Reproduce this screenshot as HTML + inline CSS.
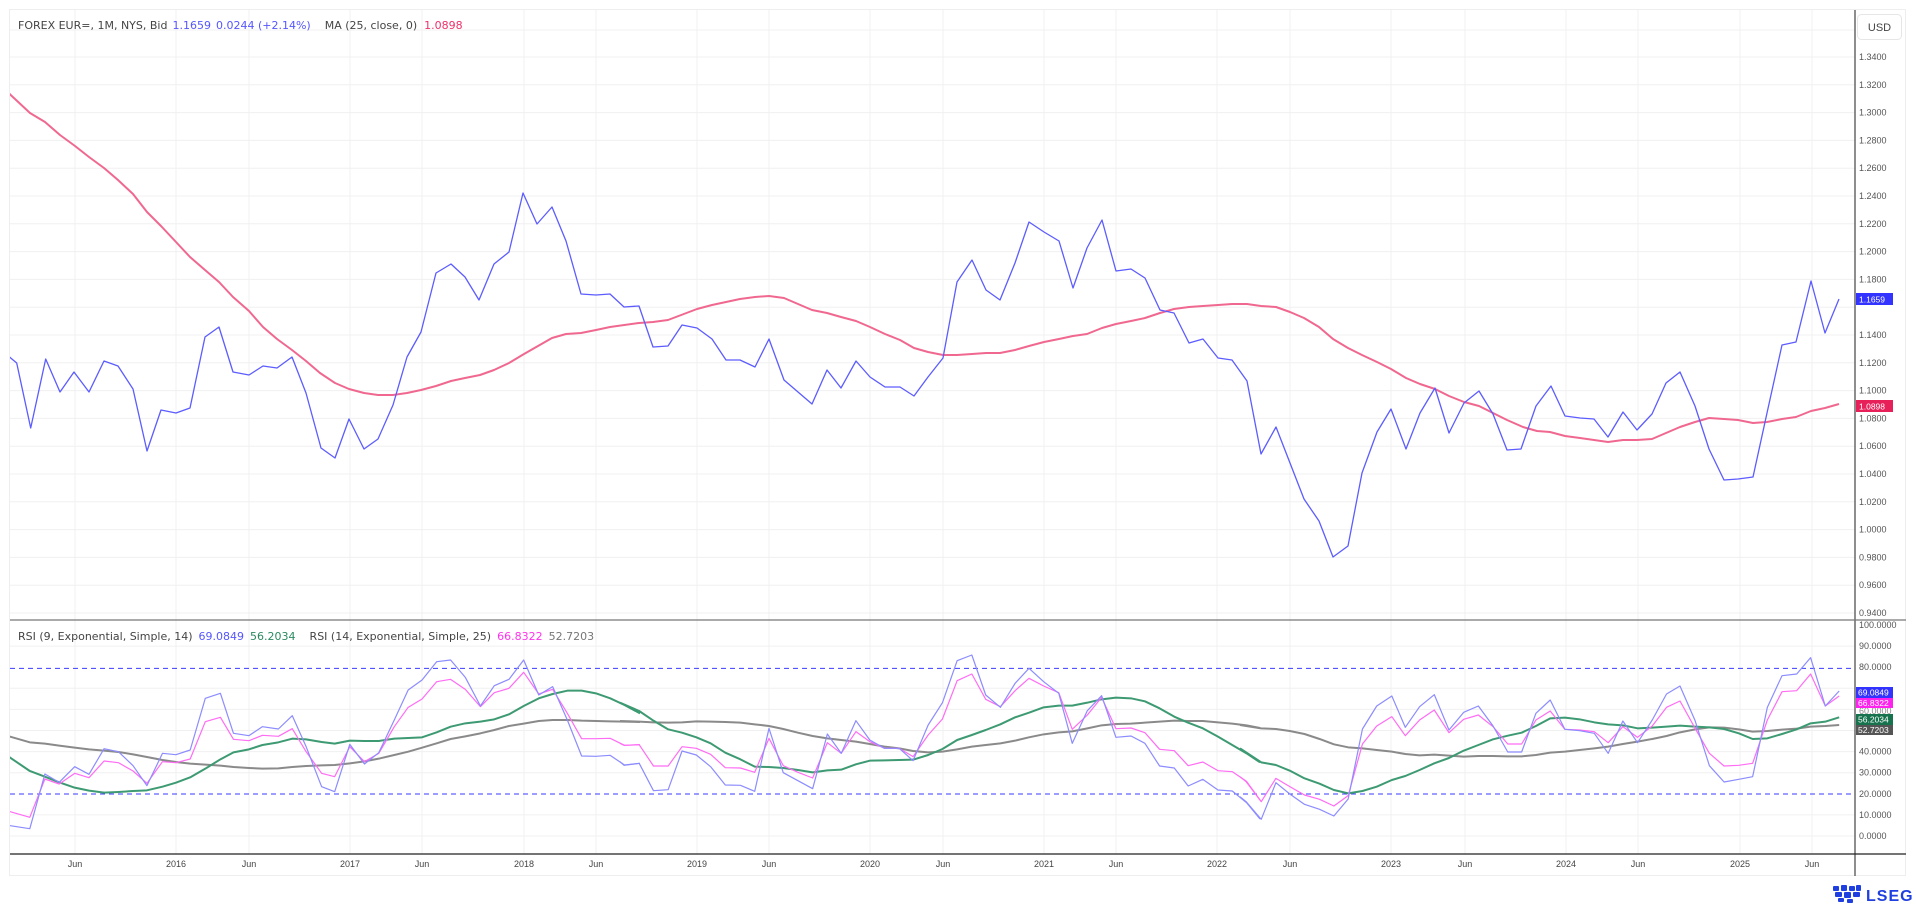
<!DOCTYPE html>
<html><head><meta charset="utf-8">
<style>
html,body{margin:0;padding:0;background:#fff;}
body{width:1916px;height:905px;overflow:hidden;position:relative;font-family:"Liberation Sans",sans-serif;}
svg{position:absolute;left:0;top:0;}
.ax{font-family:"Liberation Sans",sans-serif;font-size:9px;fill:#555;}
.lg{font-family:"DejaVu Sans","Liberation Sans",sans-serif;font-size:11px;}
</style></head><body>
<svg width="1916" height="905" viewBox="0 0 1916 905">
<defs>
<clipPath id="cm"><rect x="10" y="10" width="1845" height="609"/></clipPath>
<clipPath id="cr"><rect x="10" y="621" width="1845" height="232"/></clipPath>
</defs>
<rect x="9.5" y="9.5" width="1896" height="866" fill="none" stroke="#eeeeee"/>
<g stroke="#f0f0f0" stroke-width="1">
<line x1="10" x2="1855" y1="30" y2="30"/>
<line x1="10" x2="1855" y1="57" y2="57"/><line x1="10" x2="1855" y1="84.8" y2="84.8"/><line x1="10" x2="1855" y1="112.6" y2="112.6"/><line x1="10" x2="1855" y1="140.4" y2="140.4"/><line x1="10" x2="1855" y1="168.2" y2="168.2"/><line x1="10" x2="1855" y1="196" y2="196"/><line x1="10" x2="1855" y1="223.8" y2="223.8"/><line x1="10" x2="1855" y1="251.6" y2="251.6"/><line x1="10" x2="1855" y1="279.4" y2="279.4"/><line x1="10" x2="1855" y1="307.2" y2="307.2"/><line x1="10" x2="1855" y1="335" y2="335"/><line x1="10" x2="1855" y1="362.8" y2="362.8"/><line x1="10" x2="1855" y1="390.6" y2="390.6"/><line x1="10" x2="1855" y1="418.4" y2="418.4"/><line x1="10" x2="1855" y1="446.2" y2="446.2"/><line x1="10" x2="1855" y1="474" y2="474"/><line x1="10" x2="1855" y1="501.8" y2="501.8"/><line x1="10" x2="1855" y1="529.6" y2="529.6"/><line x1="10" x2="1855" y1="557.4" y2="557.4"/><line x1="10" x2="1855" y1="585.2" y2="585.2"/><line x1="10" x2="1855" y1="613" y2="613"/>
<line x1="10" x2="1855" y1="646.1" y2="646.1"/><line x1="10" x2="1855" y1="688.3" y2="688.3"/><line x1="10" x2="1855" y1="709.4" y2="709.4"/><line x1="10" x2="1855" y1="730.5" y2="730.5"/><line x1="10" x2="1855" y1="751.6" y2="751.6"/><line x1="10" x2="1855" y1="772.7" y2="772.7"/><line x1="10" x2="1855" y1="814.9" y2="814.9"/><line x1="10" x2="1855" y1="836" y2="836"/>
</g>
<g stroke="#f0f0f0" stroke-width="1">
<line x1="75" x2="75" y1="10" y2="854"/><line x1="176" x2="176" y1="10" y2="854"/><line x1="249" x2="249" y1="10" y2="854"/><line x1="350" x2="350" y1="10" y2="854"/><line x1="422" x2="422" y1="10" y2="854"/><line x1="524" x2="524" y1="10" y2="854"/><line x1="596" x2="596" y1="10" y2="854"/><line x1="697" x2="697" y1="10" y2="854"/><line x1="769" x2="769" y1="10" y2="854"/><line x1="870" x2="870" y1="10" y2="854"/><line x1="943" x2="943" y1="10" y2="854"/><line x1="1044" x2="1044" y1="10" y2="854"/><line x1="1116" x2="1116" y1="10" y2="854"/><line x1="1217" x2="1217" y1="10" y2="854"/><line x1="1290" x2="1290" y1="10" y2="854"/><line x1="1391" x2="1391" y1="10" y2="854"/><line x1="1465" x2="1465" y1="10" y2="854"/><line x1="1566" x2="1566" y1="10" y2="854"/><line x1="1638" x2="1638" y1="10" y2="854"/><line x1="1740" x2="1740" y1="10" y2="854"/><line x1="1812" x2="1812" y1="10" y2="854"/>
</g>
<g clip-path="url(#cm)" fill="none" stroke-linejoin="round">
<polyline stroke="#f06890" stroke-width="2" points="4,88 10.7,95 30,113 45,122 60,135 75,146 89,157 104,168 118,180 133,194 147,212 161,226 176,242 190,257 205,270 219,282 233,297 249,311 263,327 277,339 292,350 306,361 320,373 335,383 349,389 364,393 378,395 393,395 407,393 421,390 436,386 451,381 465,378 480,375 494,370 509,363 524,354 552,338 566,334 581,333 596,330 610,327 639,323 653,322 668,320 697,309 712,305 726,302 740,299 755,297 769,296 784,298 798,304 812,310 827,313 841,317 856,321 870,327 885,334 900,340 914,348 928,352 943,355 957,355 972,354 986,353 1000,353 1015,350 1029,346 1044,342 1059,339 1073,336 1087,334 1102,328 1116,324 1131,321 1145,318 1160,313 1174,309 1189,307 1203,306 1218,305 1232,304 1247,304 1261,306 1276,307 1290,312 1304,318 1319,327 1333,339 1348,348 1362,355 1377,362 1391,369 1406,378 1420,384 1435,389 1449,396 1464,402 1479,406 1493,413 1507,420 1523,427 1537,431 1550,432 1565,436 1580,438 1594,440 1608,442 1623,440 1637,440 1652,439 1666,433 1680,427 1695,422 1709,418 1724,419 1738,420 1753,423 1767,422 1782,419 1796,417 1811,411 1825,408 1839,404"/>
<polyline stroke="#5c5cff" stroke-width="1.3" points="4,352 10.7,358 16.7,363 30.7,428 45.7,359 60,392 74,372 89,392 104,361 118,366 133,389 147,451 161,410 176,413 190,408 205,337 219,327 233,372 249,375 263,366 277,368 292,357 306,393 321,448 335,458 349,419 364,449 378,439 393,405 407,357 421,332 436,273 451,264 465,277 479,300 494,264 509,252 523,193 537,224 552,207 566,241 581,294 596,295 610,294 624,307 639,306 653,347 668,346 682,325 697,328 712,339 726,360 740,360 755,367 769,339 784,380 798,392 812,404 827,370 841,388 856,361 870,377 885,387 900,387 914,396 928,377 943,358 957,282 972,260 986,290 1000,300 1015,263 1029,222 1044,232 1059,241 1073,288 1087,248 1102,220 1116,271 1131,269 1145,278 1160,310 1174,313 1189,343 1203,339 1218,358 1232,360 1247,381 1261,454 1276,427 1290,463 1304,499 1319,521 1333,557 1348,546 1362,473 1377,432 1391,409 1406,449 1420,413 1435,388 1449,433 1464,403 1479,391 1493,414 1507,450 1521,449 1536,406 1551,386 1565,416 1580,418 1594,419 1608,437 1623,412 1637,430 1652,414 1666,383 1680,372 1695,406 1709,449 1724,480 1738,479 1753,477 1767,413 1782,345 1796,342 1811,281 1825,333 1839,299"/>
</g>
<line x1="10" x2="1855" y1="668.4" y2="668.4" stroke="#3b3bff" stroke-dasharray="5,4" stroke-width="1"/>
<line x1="10" x2="1855" y1="794" y2="794" stroke="#3b3bff" stroke-dasharray="5,4" stroke-width="1"/>
<g clip-path="url(#cr)" fill="none" stroke-linejoin="round">
<g transform="translate(0,620) scale(0.40816,0.33333)">
<polyline vector-effect="non-scaling-stroke" stroke="#8a8a8a" stroke-width="2" points="0,340 25,350 73,367 110,371 145,377 183,383 218,388 255,392 290,396 326,403 360,411 398,420 431,426 466,431 503,434 540,437 572,441 610,444 643,446 682,445 716,441 750,438 788,436 820,435 857,430 893,424 928,416 966,405 1000,395 1034,383 1070,370 1104,357 1140,349 1177,340 1211,330 1247,318 1283,311 1320,303 1354,300 1390,300 1425,302 1460,303 1495,304 1530,305 1568,306"/>
<polyline vector-effect="non-scaling-stroke" stroke="#3d9a72" stroke-width="2" points="0,395 25,413 73,453 110,470 145,487 183,503 218,512 255,518 290,516 326,513 360,511 398,500 431,488 466,472 503,446 540,418 572,397 610,388 643,375 682,367 716,356 750,358 788,366 820,371 857,362 893,363 928,363 966,356 1000,354 1034,352 1070,337 1104,320 1140,310 1177,305 1211,298 1247,283 1283,258 1320,235 1354,222 1390,212 1425,212 1460,220 1495,235 1530,255 1568,280"/>
<polyline vector-effect="non-scaling-stroke" stroke="#ff6cf4" stroke-width="1.2" points="0,570 25,575 73,592 110,477 145,492 183,460 218,473 255,423 290,428 326,453 360,490 398,425 431,428 466,417 503,305 540,292 572,358 610,362 643,346 682,349 716,326 750,395 788,460 820,470 857,380 893,425 928,400 966,320 1000,262 1034,237 1070,185 1104,178 1140,208 1177,260 1211,218 1247,205 1283,157 1320,222 1354,208 1390,280 1425,356 1460,356 1495,355 1530,376 1568,374"/>
<polyline vector-effect="non-scaling-stroke" stroke="#8c8cff" stroke-width="1.2" points="0,614 25,617 73,626 110,462 145,487 183,440 218,463 255,386 290,395 326,437 360,497 398,400 431,404 466,390 503,235 540,220 572,340 610,347 643,320 682,327 716,287 750,380 788,500 820,515 857,373 893,432 928,398 966,300 1000,210 1034,180 1070,125 1104,120 1140,172 1177,258 1211,197 1247,178 1283,120 1320,225 1354,200 1390,300 1425,408 1460,409 1495,406 1530,435 1568,430"/>
</g>
<g transform="translate(620,620) scale(0.40816,0.33333)">
<polyline vector-effect="non-scaling-stroke" stroke="#8a8a8a" stroke-width="2" points="0,303 47,305 82,307 118,308 152,307 187,304 222,305 258,306 295,308 330,313 365,318 400,327 436,338 472,348 508,355 542,360 578,365 612,372 648,380 684,385 718,393 755,397 790,395 826,388 862,380 896,375 932,370 968,362 1002,352 1038,343 1075,337 1108,334 1145,325 1180,316 1215,312 1252,311 1286,308 1322,305 1358,302 1392,303 1428,303 1465,307 1500,311 1535,316 1568,324"/>
<polyline vector-effect="non-scaling-stroke" stroke="#3d9a72" stroke-width="2" points="0,248 47,273 82,302 118,328 152,338 187,352 222,370 258,398 295,418 330,440 365,441 400,444 436,450 472,457 508,451 542,449 578,433 612,422 648,421 684,420 718,419 755,405 790,387 826,360 862,345 896,330 932,313 968,292 1002,278 1038,262 1075,257 1108,257 1145,248 1180,238 1215,233 1252,235 1286,244 1322,265 1358,290 1392,308 1428,325 1465,350 1500,375 1535,400 1568,427"/>
<polyline vector-effect="non-scaling-stroke" stroke="#ff6cf4" stroke-width="1.2" points="0,370 10,376 47,374 82,438 118,438 152,380 187,385 222,403 258,443 295,444 330,457 365,355 400,437 436,457 472,474 508,368 542,400 578,335 612,365 648,385 684,385 718,410 755,345 790,297 826,182 862,162 896,238 932,260 968,212 1002,175 1038,198 1075,218 1108,328 1145,285 1180,232 1215,326 1252,324 1286,338 1322,388 1358,392 1392,437 1428,426 1465,452 1500,455 1535,484 1568,540"/>
<polyline vector-effect="non-scaling-stroke" stroke="#8c8cff" stroke-width="1.2" points="0,425 10,436 47,430 82,512 118,509 152,393 187,405 222,440 258,495 295,496 330,514 365,325 400,458 436,482 472,506 508,342 542,400 578,302 612,360 648,385 684,385 718,422 755,315 790,248 826,122 862,105 896,225 932,262 968,190 1002,145 1038,185 1075,220 1108,370 1145,272 1180,227 1215,352 1252,348 1286,370 1322,438 1358,444 1392,498 1428,478 1465,510 1500,513 1535,548 1568,597"/>
</g>
<g transform="translate(1240,620) scale(0.40816,0.33333)">
<polyline vector-effect="non-scaling-stroke" stroke="#8a8a8a" stroke-width="2" points="0,315 52,325 88,327 122,333 158,342 195,357 230,373 265,382 300,385 335,390 372,395 405,402 440,406 476,404 512,407 548,410 584,408 620,408 656,409 690,409 725,405 760,398 796,395 832,390 868,385 902,380 938,372 974,365 1010,357 1045,348 1078,337 1115,328 1150,322 1186,323 1222,328 1256,335 1292,333 1328,329 1364,326 1398,320 1434,318 1468,315"/>
<polyline vector-effect="non-scaling-stroke" stroke="#3d9a72" stroke-width="2" points="0,385 52,427 88,435 122,452 158,475 195,491 230,510 265,520 300,513 335,500 372,480 405,468 440,450 476,430 512,414 548,392 584,375 620,358 656,347 690,338 725,318 760,295 796,293 832,298 868,307 902,313 938,316 974,325 1010,323 1045,320 1078,317 1115,320 1150,322 1186,327 1222,340 1256,357 1292,355 1328,342 1364,328 1398,310 1434,305 1468,292"/>
<polyline vector-effect="non-scaling-stroke" stroke="#ff6cf4" stroke-width="1.2" points="0,470 15,485 52,545 88,475 122,500 158,525 195,538 230,558 265,527 300,372 335,318 372,290 405,347 440,300 476,270 512,338 548,298 584,285 620,320 656,372 690,372 725,300 760,273 796,328 832,330 868,335 902,368 938,320 974,352 1010,318 1045,262 1078,243 1115,325 1150,400 1186,438 1222,436 1256,430 1292,300 1328,215 1364,212 1398,162 1434,258 1468,228"/>
<polyline vector-effect="non-scaling-stroke" stroke="#8c8cff" stroke-width="1.2" points="0,530 15,545 52,598 88,488 122,522 158,553 195,568 230,588 265,537 300,327 335,258 372,228 405,322 440,260 476,224 512,330 548,277 584,258 620,318 656,396 690,396 725,280 760,240 796,328 832,332 868,340 902,400 938,303 974,368 1010,300 1045,222 1078,198 1115,302 1150,437 1186,486 1222,478 1256,470 1292,262 1328,167 1364,162 1398,113 1434,258 1468,213"/>
</g>
</g>
<line x1="1855" x2="1855" y1="10" y2="876" stroke="#444" stroke-width="1.2"/>
<line x1="10" x2="1906" y1="620" y2="620" stroke="#777" stroke-width="1.2"/>
<line x1="10" x2="1906" y1="854" y2="854" stroke="#222" stroke-width="1.2"/>
<rect x="1857.5" y="14.5" width="44" height="25" rx="4" fill="#fff" stroke="#e6e6e6"/>
<text x="1879.5" y="31" text-anchor="middle" style="font-family:'Liberation Sans',sans-serif;font-size:11px;fill:#444">USD</text>
<g class="ax">
<text x="1859" y="60">1.3400</text><text x="1859" y="87.8">1.3200</text><text x="1859" y="115.6">1.3000</text><text x="1859" y="143.4">1.2800</text><text x="1859" y="171.2">1.2600</text><text x="1859" y="199">1.2400</text><text x="1859" y="226.8">1.2200</text><text x="1859" y="254.6">1.2000</text><text x="1859" y="282.4">1.1800</text><text x="1859" y="338">1.1400</text><text x="1859" y="365.8">1.1200</text><text x="1859" y="393.6">1.1000</text><text x="1859" y="421.4">1.0800</text><text x="1859" y="449.2">1.0600</text><text x="1859" y="477">1.0400</text><text x="1859" y="504.8">1.0200</text><text x="1859" y="532.6">1.0000</text><text x="1859" y="560.4">0.9800</text><text x="1859" y="588.2">0.9600</text><text x="1859" y="616">0.9400</text>
<text x="1859" y="628">100.0000</text><text x="1859" y="649.1">90.0000</text><text x="1859" y="670.2">80.0000</text><text x="1859" y="754.6">40.0000</text><text x="1859" y="775.7">30.0000</text><text x="1859" y="796.8">20.0000</text><text x="1859" y="817.9">10.0000</text><text x="1859" y="839">0.0000</text>
</g>
<rect x="1856" y="293" width="37" height="12" fill="#3333ff"/><text x="1859" y="302.5" style="font-family:'Liberation Sans',sans-serif;font-size:8.5px;fill:#fff">1.1659</text>
<rect x="1856" y="400" width="37" height="12" fill="#e8205a"/><text x="1859" y="409.5" style="font-family:'Liberation Sans',sans-serif;font-size:8.5px;fill:#fff">1.0898</text>
<text x="1859" y="714" style="font-family:'Liberation Sans',sans-serif;font-size:9px;fill:#888">60.0000</text>
<rect x="1856" y="687" width="37" height="11" fill="#3333ff"/><text x="1858" y="695.5" style="font-family:'Liberation Sans',sans-serif;font-size:8.5px;fill:#fff">69.0849</text>
<rect x="1856" y="698" width="37" height="10" fill="#ff22ee"/><text x="1858" y="706" style="font-family:'Liberation Sans',sans-serif;font-size:8.5px;fill:#fff">66.8322</text>
<rect x="1856" y="714" width="37" height="11" fill="#16734e"/><text x="1858" y="722.5" style="font-family:'Liberation Sans',sans-serif;font-size:8.5px;fill:#fff">56.2034</text>
<rect x="1856" y="725" width="37" height="10" fill="#555"/><text x="1858" y="733" style="font-family:'Liberation Sans',sans-serif;font-size:8.5px;fill:#fff">52.7203</text>
<g class="ax" text-anchor="middle" style="fill:#444">
<text x="75" y="867">Jun</text><text x="176" y="867">2016</text><text x="249" y="867">Jun</text><text x="350" y="867">2017</text><text x="422" y="867">Jun</text><text x="524" y="867">2018</text><text x="596" y="867">Jun</text><text x="697" y="867">2019</text><text x="769" y="867">Jun</text><text x="870" y="867">2020</text><text x="943" y="867">Jun</text><text x="1044" y="867">2021</text><text x="1116" y="867">Jun</text><text x="1217" y="867">2022</text><text x="1290" y="867">Jun</text><text x="1391" y="867">2023</text><text x="1465" y="867">Jun</text><text x="1566" y="867">2024</text><text x="1638" y="867">Jun</text><text x="1740" y="867">2025</text><text x="1812" y="867">Jun</text>
</g>
<text x="18" y="29" class="lg"><tspan fill="#444">FOREX EUR=, 1M, NYS, Bid</tspan><tspan fill="#5555ff" dx="5">1.1659</tspan><tspan fill="#5555ff" dx="5">0.0244 (+2.14%)</tspan><tspan fill="#444" dx="14">MA (25, close, 0)</tspan><tspan fill="#f0306a" dx="7">1.0898</tspan></text>
<text x="18" y="640" class="lg"><tspan fill="#444">RSI (9, Exponential, Simple, 14)</tspan><tspan fill="#5555ff" dx="6">69.0849</tspan><tspan fill="#2a8a60" dx="6">56.2034</tspan><tspan fill="#444" dx="14">RSI (14, Exponential, Simple, 25)</tspan><tspan fill="#ff33ee" dx="6">66.8322</tspan><tspan fill="#777" dx="6">52.7203</tspan></text>
<g fill="#1f3fe0">
<rect x="1833" y="886" width="6" height="5" rx="1"/><rect x="1841" y="885" width="6" height="6" rx="1"/><rect x="1849" y="886" width="6" height="5" rx="1"/><rect x="1856" y="885" width="5" height="6" rx="1"/>
<rect x="1835" y="892" width="7" height="5" rx="1"/><rect x="1844" y="892" width="7" height="6" rx="1"/><rect x="1853" y="892" width="7" height="5" rx="1"/>
<rect x="1838" y="898" width="6" height="4" rx="1"/><rect x="1847" y="899" width="6" height="4" rx="1"/>
</g>
<text x="1866" y="901" style="font-family:'Liberation Sans',sans-serif;font-size:16px;font-weight:bold;fill:#1f3fe0;letter-spacing:1px">LSEG</text>
</svg>
</body></html>
